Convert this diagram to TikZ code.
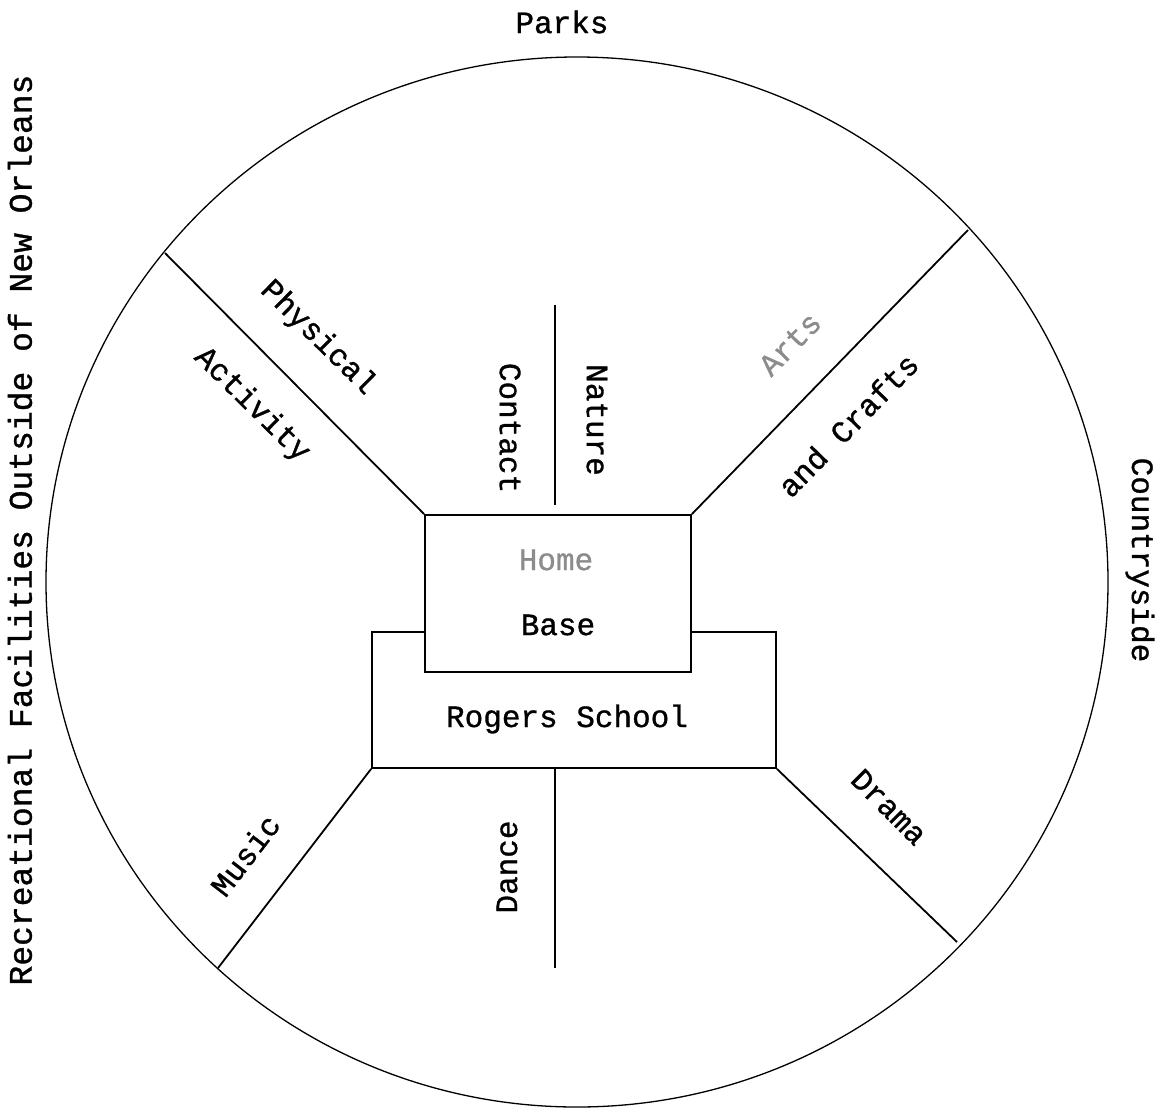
\documentclass[tikz,border=0pt]{standalone}
\usepackage{fontspec}
\newfontfamily\typewriter[FakeBold=1]{Liberation Mono}
\usepackage{tikz}

\tikzset{
  spoke/.style={line width=1.8pt},
  box/.style={draw, line width=1.8pt, fill=white, inner sep=0pt},
  lbl/.style={font=\typewriter\fontsize{31}{36}\selectfont, inner sep=0pt},
  faint/.style={text=black!45}
}

\begin{document}
\begin{tikzpicture}[x=1pt,y=-1pt]
  \useasboundingbox (0,0) rectangle (1159,1109);
  \draw[line width=1.3pt] (577,582) ellipse [x radius=531pt, y radius=525pt];
  \node[box, minimum width=404pt, minimum height=136pt] (school) at (574,700) {};
  \node[box, minimum width=266pt, minimum height=157pt] (home) at (558,593.5) {};
  \coordinate (rimUL) at (165,253);
  \coordinate (rimUR) at (968,230);
  \coordinate (rimLL) at (218,968);
  \coordinate (rimLR) at (957,942);
  \coordinate (topA) at (555,305);
  \coordinate (topB) at (555,505);
  \coordinate (botB) at (555,968);
  \draw[spoke] (home.north west) -- (rimUL);
  \draw[spoke] (home.north east) -- (rimUR);
  \draw[spoke] (school.south west) -- (rimLL);
  \draw[spoke] (school.south east) -- (rimLR);
  \draw[spoke] (topA) -- (topB);
  \draw[spoke] (school.south -| topA) -- (botB);
  \node[lbl] (parks) at (562,22) {Parks};
  \node[lbl, rotate=90, font=\typewriter\fontsize{33}{38}\selectfont] (recreation) at (20,530) {Recreational Facilities Outside of New Orleans};
  \node[lbl, rotate=-90] (country) at (1140,560) {Countryside};
  \node[lbl, rotate=-44.6] (physical) at (318,338) {Physical};
  \node[lbl, rotate=-44.6] (activity) at (252,405) {Activity};
  \node[lbl, rotate=-90] (contact) at (510,428) {Contact};
  \node[lbl, rotate=-90] (nature) at (597,420) {Nature};
  \node[lbl, rotate=45.7, faint] (arts) at (790,344) {Arts};
  \node[lbl, rotate=45.7] (crafts) at (848,425) {and Crafts};
  \node[lbl, faint] (homelbl) at (556,560) {Home};
  \node[lbl] (baselbl) at (558,625) {Base};
  \node[lbl] (schoollbl) at (567,719) {Rogers School};
  \node[lbl, rotate=52.5] (music) at (245,855) {Music};
  \node[lbl, rotate=90] (dance) at (507,867) {Dance};
  \node[lbl, rotate=-45] (drama) at (889,807) {Drama};
\end{tikzpicture}
\end{document}
